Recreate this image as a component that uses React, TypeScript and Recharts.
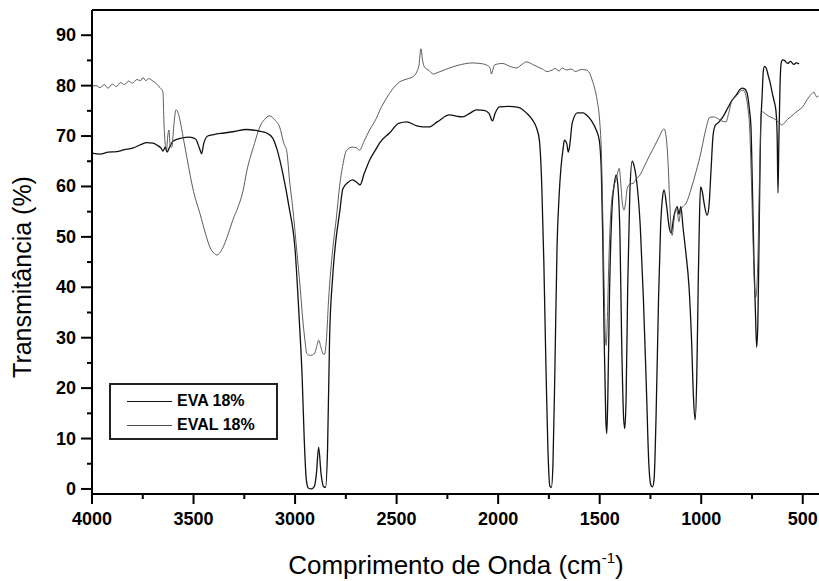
import { LineChart, Line, XAxis, YAxis, ReferenceLine, Legend } from 'recharts'

// EVA 18% (darker trace)
const evaWavenumber = [
  4000, 3960, 3920, 3880, 3840, 3800, 3760, 3730, 3700, 3680, 3660, 3650, 3640, 3630, 3620, 3600,
  3560, 3520, 3490, 3470, 3460, 3450, 3430, 3400, 3350, 3300, 3240, 3180, 3140, 3110, 3090, 3060,
  3030, 3000, 2980, 2965, 2955, 2945, 2935, 2920, 2905, 2895, 2884, 2872, 2860, 2850, 2840, 2830,
  2815, 2800, 2780, 2765, 2740, 2717, 2695, 2680, 2660, 2633, 2600, 2584, 2535, 2490, 2451, 2400,
  2370, 2340, 2300, 2240, 2200, 2176, 2140, 2107, 2070, 2045, 2028, 2015, 1994, 1950, 1900, 1861,
  1831, 1810, 1797, 1785, 1775, 1765, 1755, 1745, 1738, 1730, 1720, 1710, 1700, 1690, 1680, 1674,
  1662, 1655, 1648, 1635, 1610, 1580, 1566, 1540, 1517, 1502, 1492, 1485, 1478, 1470, 1465, 1460,
  1452, 1440, 1428, 1419, 1410, 1400, 1392, 1382, 1376, 1370, 1362, 1352, 1340, 1330, 1315, 1300,
  1285, 1270, 1258, 1248, 1240, 1232, 1222, 1210, 1200, 1190, 1183, 1170, 1158, 1148, 1135, 1118,
  1110, 1100, 1090, 1076, 1060, 1048, 1038, 1030, 1022, 1015, 1008, 1003, 995, 985, 971, 962,
  952, 942, 932, 912, 890, 870, 850, 828, 810, 799, 785, 774, 762, 755, 748, 740,
  733, 727, 721, 715, 708, 700, 694, 688, 680, 670, 660, 650, 642, 632, 626, 622,
  618, 612, 606, 600, 590, 575, 560, 545, 533, 518,
]
const evaTransmittance = [
  66.6, 66.4, 66.8, 66.9, 67.3, 67.6, 68.3, 68.7, 68.6, 68.2, 67.6, 67.0, 67.8, 66.8, 67.6, 69.0,
  69.6, 69.8, 69.4, 67.5, 66.5, 68.5, 70.0, 70.3, 70.6, 70.9, 71.3, 71.0, 70.6, 69.6, 67.5, 62.5,
  56, 47.5, 34, 22, 10, 2, 0.2, 0, 0.5, 3, 8.3, 3, 0.5, 0.3, 8, 30,
  42, 49, 55, 59.5, 60.8, 61.3, 60.8, 60.3, 62.5, 65.2, 67.5, 68.6, 70.6, 72.5, 72.8, 72.0,
  71.8, 71.8, 72.8, 74.2, 73.9, 73.8, 74.5, 75.2, 75.1, 74.5, 73.0, 74.5, 75.8, 75.9, 75.7, 74.6,
  73.2, 71.5, 69.2, 60, 45, 25, 8, 0.5, 0.3, 5, 25, 48, 58, 64, 67.5, 69.2,
  68.5, 66.8, 68, 72.6, 74.6, 74.6, 74.2, 73, 71.2, 69.2, 63, 50, 30, 14, 11, 18,
  38, 55, 60.5, 62.3, 60, 50, 30, 14, 12, 18, 40, 58, 65, 64, 60, 52,
  38, 20, 5, 0.8, 0.4, 2, 15, 38, 52, 58, 59.3, 56, 52, 50.8, 54, 56,
  54.5, 56, 52, 47, 40, 30, 18, 13.7, 22, 40, 55, 59.9, 59, 56.5, 54.3, 56,
  63, 70, 72, 72.8, 74, 75.5, 77, 78.1, 79.2, 79.5, 79.3, 78.5, 75, 71.8, 60, 45,
  35, 28.1, 33, 50, 70, 78, 83, 83.8, 83.5, 82, 80.5, 78.5, 77.1, 75, 70, 58.7,
  68, 80, 84.5, 85.1, 85.0, 84.4, 84.8, 84.2, 84.5, 84.3,
]

// EVAL 18% (lighter trace)
const evalWavenumber = [
  4000, 3980, 3960, 3940, 3920, 3900, 3880, 3860, 3840, 3820, 3800, 3780, 3760, 3749, 3735, 3720,
  3700, 3685, 3670, 3660, 3651, 3645, 3640, 3633, 3627, 3621, 3615, 3607, 3597, 3587, 3575, 3567,
  3550, 3533, 3500, 3469, 3440, 3420, 3400, 3385, 3360, 3330, 3307, 3280, 3257, 3238, 3200, 3174,
  3150, 3125, 3100, 3076, 3055, 3041, 3026, 3012, 2992, 2975, 2963, 2950, 2943, 2925, 2905, 2895,
  2884, 2872, 2862, 2855, 2845, 2835, 2815, 2796, 2781, 2766, 2746, 2717, 2700, 2682, 2660, 2633,
  2600, 2584, 2550, 2520, 2486, 2450, 2422, 2400, 2390, 2380, 2372, 2363, 2340, 2320, 2304, 2260,
  2225, 2180, 2127, 2090, 2058, 2040, 2033, 2025, 2018, 1980, 1940, 1910, 1880, 1861, 1830, 1800,
  1782, 1760, 1733, 1720, 1700, 1685, 1664, 1640, 1620, 1590, 1566, 1550, 1537, 1525, 1512, 1500,
  1492, 1485, 1478, 1472, 1468, 1462, 1455, 1445, 1430, 1418, 1404, 1395, 1388, 1380, 1372, 1365,
  1350, 1335, 1320, 1306, 1280, 1256, 1230, 1205, 1190, 1183, 1175, 1165, 1155, 1148, 1143, 1135,
  1125, 1118, 1110, 1100, 1090, 1074, 1050, 1025, 1000, 985, 970, 961, 940, 920, 900, 878,
  865, 848, 823, 810, 799, 790, 780, 770, 762, 752, 744, 738, 732, 726, 720, 714,
  708, 705, 698, 690, 680, 670, 660, 645, 632, 615, 602, 590, 575, 560, 540, 518,
  500, 485, 470, 458, 445, 438, 430, 422,
]
const evalTransmittance = [
  79.9, 80.0, 79.6, 80.2, 79.5, 80.3, 79.8, 80.6, 80.2, 80.9, 80.5, 81.2, 81.0, 81.6, 81.0, 81.4,
  80.9, 80.5, 79.8, 79.4, 78.8, 72, 68.6, 67.2, 70, 71.2, 68, 67.8, 72, 75.2, 74.5, 73.2,
  69.5, 65.8, 59, 54.7, 50.5, 48, 46.8, 46.4, 47.5, 50.5, 53.3, 56, 59, 63, 68.5, 71.8,
  73.3, 74, 73.2, 71.8, 68.5, 67, 60.7, 56, 47.4, 40, 34, 29, 26.9, 26.5, 26.8, 28,
  29.5, 28, 26.8, 26.7, 30, 37.5, 47.4, 54, 60, 64, 67.2, 67.8, 67.7, 67.2, 69, 71.2,
  73.5, 75, 77.5, 79.3, 80.7, 81.3, 81.7, 82.8, 84, 87.3, 85, 83.7, 83, 82.3, 82.5, 83.2,
  83.7, 84.2, 84.5, 84.4, 84.1, 83.5, 82.3, 83.3, 84.1, 84.4, 83.8, 83.5, 84.3, 84.7, 84.2, 83.6,
  83.3, 82.8, 83.1, 83.4, 82.9, 83.5, 83.1, 83.3, 82.8, 83.2, 83.1, 82.5, 81.1, 79.5, 77, 73,
  67.2, 55, 40, 30, 28.5, 34, 45, 55, 60, 61.5, 63.6, 60, 56.5, 55.3, 57, 59.5,
  60.5, 60.6, 61.5, 62, 64, 66, 68, 70, 71.2, 71.4, 70.5, 66, 57, 51.5, 50.3, 53,
  55.5, 55, 53, 55.5, 56, 56.7, 59.5, 63, 67, 70, 72.5, 73.6, 73.8, 73.5, 73.0, 72.8,
  74.5, 77.1, 78.1, 78.8, 79.1, 79.0, 78, 75.5, 72, 60, 48, 40.5, 38, 40, 47, 60,
  70, 74.6, 74.8, 74.6, 74.3, 74.0, 73.8, 73.5, 73.2, 72.6, 72.2, 72.6, 73.3, 73.8, 74.5, 75.2,
  75.8, 76.8, 77.7, 78.3, 78.7, 78.2, 77.7, 78.0,
]

const xTicks = [4000, 3750, 3500, 3250, 3000, 2750, 2500, 2250, 2000, 1750, 1500, 1250, 1000, 750, 500]
const yTicks = [0, 5, 10, 15, 20, 25, 30, 35, 40, 45, 50, 55, 60, 65, 70, 75, 80, 85, 90]
const seriesNames = ['EVA 18%', 'EVAL 18%']
const seriesColors = ['#111111', '#4a4a4a']

const evaData = evaWavenumber.map((x, i) => ({ x, y: evaTransmittance[i] }))
const evalData = evalWavenumber.map((x, i) => ({ x, y: evalTransmittance[i] }))

const font = '"Liberation Sans", Arial, sans-serif'

function XTick({ x, y, payload }: any) {
  const major = payload.value % 500 === 0
  return (
    <g>
      <line x1={x} x2={x} y1={y} y2={y + (major ? 10 : 5)} stroke="#000" strokeWidth={2} />
      {major && (
        <text x={x} y={y + 31} textAnchor="middle" fontFamily={font} fontWeight="bold" fontSize={18} fill="#000">
          {payload.value}
        </text>
      )}
    </g>
  )
}

function YTick({ x, y, payload }: any) {
  const major = payload.value % 10 === 0
  return (
    <g>
      <line x1={x} x2={x - (major ? 11 : 5)} y1={y} y2={y} stroke="#000" strokeWidth={2} />
      {major && (
        <text x={x - 16} y={y + 6} textAnchor="end" fontFamily={font} fontWeight="bold" fontSize={18} fill="#000">
          {payload.value}
        </text>
      )}
    </g>
  )
}

function LegendBox() {
  return (
    <div
      style={{
        border: '2px solid #222',
        width: 165,
        height: 53,
        boxSizing: 'content-box',
        fontFamily: font,
        fontWeight: 'bold',
        fontSize: 16,
        background: '#fff',
      }}
    >
      {seriesNames.map((name, i) => (
        <div key={name} style={{ display: 'flex', alignItems: 'center', height: 24, marginTop: i === 0 ? 4 : 0 }}>
          <div style={{ width: 45, height: 0, borderTop: `1px solid ${seriesColors[i]}`, marginLeft: 16, marginRight: 5 }} />
          <span>{name}</span>
        </div>
      ))}
    </div>
  )
}

export default function App() {
  return (
    <div style={{ position: 'absolute', left: 0, top: 0, width: 819, height: 581, background: '#fff' }}>
      <LineChart width={819} height={581} margin={{ top: 10, right: 0, bottom: 0, left: 0 }}>
        <XAxis
          dataKey="x"
          type="number"
          domain={[420, 4000]}
          reversed
          allowDataOverflow
          ticks={xTicks}
          interval={0}
          height={87}
          tickSize={0}
          tickMargin={0}
          tickLine={false}
          axisLine={{ stroke: '#000', strokeWidth: 2 }}
          tick={<XTick />}
          label={{
            content: () => (
              <text x={456} y={574} textAnchor="middle" fontFamily={font} fontSize={26} fill="#000">
                Comprimento de Onda (cm
                <tspan dy={-11} fontSize={15}>-1</tspan>
                <tspan dy={11}>)</tspan>
              </text>
            ),
          }}
        />
        <YAxis
          type="number"
          domain={[-1, 95]}
          allowDataOverflow
          ticks={yTicks}
          interval={0}
          width={92}
          tickSize={0}
          tickMargin={0}
          tickLine={false}
          axisLine={{ stroke: '#000', strokeWidth: 2 }}
          tick={<YTick />}
          label={{
            content: () => (
              <text
                x={31}
                y={277}
                transform="rotate(-90 31 277)"
                textAnchor="middle"
                fontFamily={font}
                fontSize={25}
                fill="#000"
              >
                Transmitância (%)
              </text>
            ),
          }}
        />
        <ReferenceLine y={95} stroke="#000" strokeWidth={2} />
        <Line
          data={evaData}
          dataKey="y"
          name={seriesNames[0]}
          type="monotone"
          stroke={seriesColors[0]}
          strokeWidth={1.3}
          dot={false}
          isAnimationActive={false}
        />
        <Line
          data={evalData}
          dataKey="y"
          name={seriesNames[1]}
          type="monotone"
          stroke={seriesColors[1]}
          strokeWidth={0.9}
          dot={false}
          isAnimationActive={false}
        />
        <Legend
          layout="horizontal"
          verticalAlign="middle"
          align="center"
          content={() => <LegendBox />}
          wrapperStyle={{ position: 'absolute', left: 109, top: 383, width: 169, height: 57 }}
        />
      </LineChart>
    </div>
  )
}
